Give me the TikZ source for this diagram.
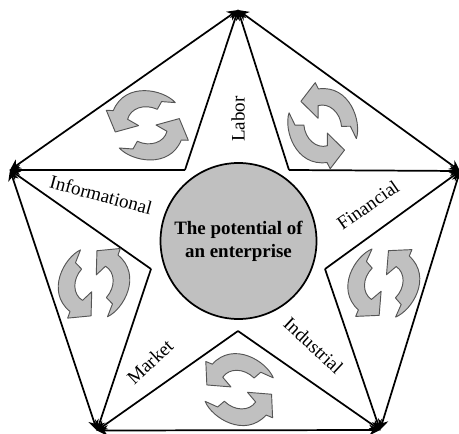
\documentclass[tikz,border=0pt]{standalone}
\usepackage{fontspec}
\setmainfont{Liberation Serif}
\usetikzlibrary{arrows.meta}
\definecolor{fillgray}{RGB}{192,192,192}
\definecolor{edgegray}{RGB}{85,85,85}
\tikzset{
  kite/.style={line width=1.3pt,-{Stealth[length=8pt,width=8pt]},shorten >=-0.5pt},
  kiteboth/.style={line width=1.3pt,{Stealth[length=8pt,width=8pt]}-{Stealth[length=8pt,width=8pt]}},
  hub/.style={circle,draw,line width=1.3pt,fill=fillgray,minimum size=117pt,inner sep=0pt},
  hubtext/.style={font=\bfseries\fontsize{14.2pt}{17.3pt}\selectfont,align=center},
  sector/.style={font=\fontsize{14.3pt}{16pt}\selectfont,inner sep=0pt},
  cyc/.style={draw=edgegray,fill=fillgray,line width=0.7pt,line join=round},
  cyclepair/.pic={
    \foreach \a in {0,180}{
      \path[cyc,rotate=\a] (-41,-15) -- (-32,6.7) -- (-8.7,0.3) -- (-19.7,-6)
        .. controls (-17,-17) and (-3,-22) .. (10,-16)
        -- (14.3,-23.7) -- (28,-22.7)
        .. controls (16,-36) and (-22,-44) .. (-34,-14.7) -- cycle;
    }
  }
}
\begin{document}
\begin{tikzpicture}[x=0.75pt,y=-0.75pt]
\useasboundingbox (0,0) rectangle (459,434);
\coordinate (top) at (238,10);
\coordinate (left) at (10,170);
\coordinate (right) at (460,171);
\coordinate (bl) at (97,430.5);
\coordinate (br) at (380,430);
\coordinate (itl) at (185,170);
\coordinate (itr) at (289,170);
\coordinate (il) at (151,269);
\coordinate (ir) at (325,269);
\coordinate (ib) at (238,331);

\draw[kiteboth] (left) -- (top);
\draw[kiteboth] (top) -- (right);
\draw[kiteboth] (right) -- (br);
\draw[kiteboth] (br) -- (bl);
\draw[kiteboth] (bl) -- (left);
\draw[kite] (itl) -- (top);
\draw[kite] (itl) -- (left);
\draw[kite] (itr) -- (top);
\draw[kite] (itr) -- (right);
\draw[kite] (il) -- (left);
\draw[kite] (il) -- (bl);
\draw[kite] (ir) -- (right);
\draw[kite] (ir) -- (br);
\draw[kite] (ib) -- (bl);
\draw[kite] (ib) -- (br);

\pic[rotate=0] at (147.3,125.3) {cyclepair};
\pic[rotate=-60] at (322.7,125.7) {cyclepair};
\pic[rotate=-107] at (94,283.3) {cyclepair};
\pic[rotate=-110] at (383.8,283) {cyclepair};
\pic[rotate=-20] at (239.2,389.6) {cyclepair};

\node[hub] (centre) at (238.5,241) {};
\node[hubtext] (title) at (238.5,241) {The potential of\\an enterprise};
\node[sector,rotate=90] (labor) at (238,119) {Labor};
\node[sector,rotate=-15] (informational) at (101,195) {Informational};
\node[sector,rotate=35] (financial) at (368,205) {Financial};
\node[sector,rotate=43] (market) at (150,362) {Market};
\node[sector,rotate=-43] (industrial) at (313.5,345.5) {Industrial};
\end{tikzpicture}
\end{document}
